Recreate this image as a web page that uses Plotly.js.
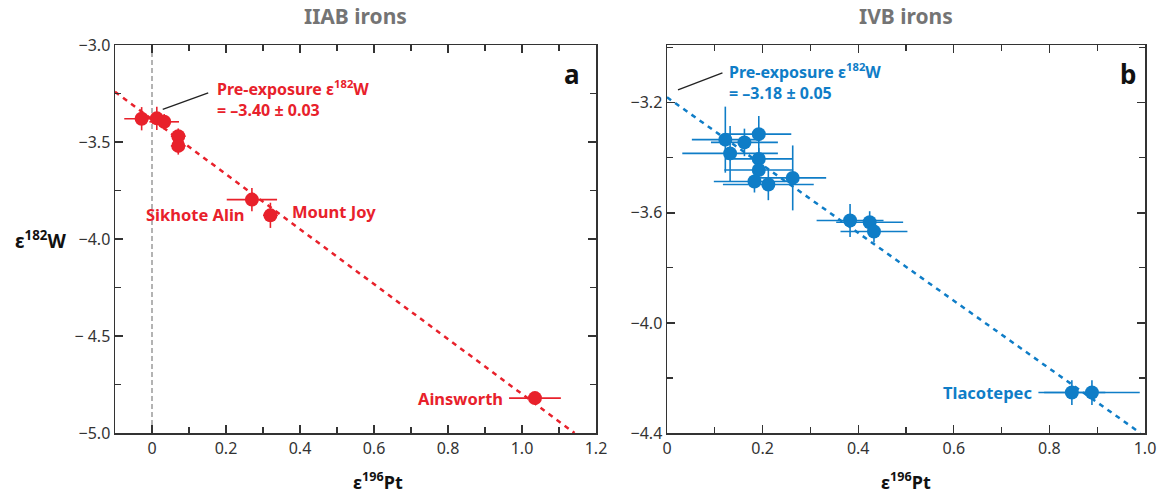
<!DOCTYPE html>
<html>
<head>
<meta charset="utf-8">
<script src="https://cdn.plot.ly/plotly-3.0.1.min.js"></script>
<style>
html,body{margin:0;padding:0;background:#fff;}
#chart{width:1171px;height:496px;}
</style>
</head>
<body>
<div id="chart"></div>
<script>
// ---------- Data ----------
// IIAB irons (panel a)
const iiabPt = [-0.028, 0.013, 0.033, 0.071, 0.071, 0.27, 0.32, 1.035];
const iiabW = [-3.38, -3.378, -3.396, -3.47, -3.52, -3.797, -3.878, -4.82];
const iiabPtErr = [0.047, 0.03, 0.04, 0.02, 0.02, 0.068, 0.02, 0.07];
const iiabWErr = [0.06, 0.06, 0.04, 0.04, 0.045, 0.06, 0.065, 0.03];
const iiabFit = {intercept: -3.383, slope: -1.416, xFrom: -0.1, xTo: 1.142};

// IVB irons (panel b)
const ivbPt = [0.122, 0.162, 0.192, 0.132, 0.192, 0.192, 0.183, 0.212, 0.263, 0.383, 0.424, 0.433, 0.847, 0.889];
const ivbW = [-3.334, -3.344, -3.314, -3.384, -3.404, -3.444, -3.486, -3.497, -3.473, -3.628, -3.634, -3.668, -4.253, -4.253];
const ivbPtErr = [0.07, 0.07, 0.068, 0.10, 0.07, 0.072, 0.085, 0.095, 0.07, 0.07, 0.07, 0.07, 0.07, 0.1];
const ivbWErr = [0.12, 0.05, 0.066, 0.1, 0.04, 0.04, 0.04, 0.057, 0.118, 0.06, 0.04, 0.04, 0.045, 0.045];
const ivbFit = {intercept: -3.18, slope: -1.232, xFrom: 0, xTo: 0.99};

// Tick labels
const ax1XVals = [0, 0.2, 0.4, 0.6, 0.8, 1.0, 1.2];
const ax1XText = ['0', '0.2', '0.4', '0.6', '0.8', '1.0', '1.2'];
const ax1YVals = [-3.0, -3.5, -4.0, -4.5, -5.0];
const ax1YText = ['\u22123.0', '\u22123.5', '\u22124.0', '\u2212 4.5', '\u22125.0'];
const ax2XVals = [0, 0.2, 0.4, 0.6, 0.8, 1.0];
const ax2XText = ['0', '0.2', '0.4', '0.6', '0.8', '1.0'];
const ax2YVals = [-3.2, -3.6, -4.0, -4.4];
const ax2YText = ['\u22123.2', '\u22123.6', '\u22124.0', '\u22124.4'];

// Leader lines for annotations (data coordinates)
const leaderA = {x: [0.029, 0.152], y: [-3.332, -3.247]};
const leaderB = {x: [0.023, 0.116], y: [-3.153, -3.091]};

// ---------- Styles ----------
const RED = '#e8212b';
const BLUE = '#0f7dc7';
const FONT = 'Noto Sans, Open Sans, sans-serif';

function fitLine(f) {
  return {x: [f.xFrom, f.xTo], y: [f.intercept + f.slope * f.xFrom, f.intercept + f.slope * f.xTo]};
}
const redLine = fitLine(iiabFit);
const blueLine = fitLine(ivbFit);

const traces = [
  {x: [0, 0], y: [-5.0, -3.0], xaxis: 'x', yaxis: 'y', mode: 'lines',
   line: {color: '#9a9a9a', width: 1.5, dash: '5px,3px'}, hoverinfo: 'skip'},
  {x: redLine.x, y: redLine.y, xaxis: 'x', yaxis: 'y', mode: 'lines',
   line: {color: RED, width: 2.5, dash: '5px,5px'}},
  {x: leaderA.x, y: leaderA.y, xaxis: 'x', yaxis: 'y', mode: 'lines',
   line: {color: '#222', width: 1.3}},
  {x: iiabPt, y: iiabW, xaxis: 'x', yaxis: 'y', mode: 'markers', type: 'scatter',
   marker: {color: RED, size: 14},
   error_x: {type: 'data', array: iiabPtErr, color: RED, thickness: 1.6, width: 0},
   error_y: {type: 'data', array: iiabWErr, color: RED, thickness: 1.6, width: 0}},

  {x: blueLine.x, y: blueLine.y, xaxis: 'x2', yaxis: 'y2', mode: 'lines',
   line: {color: BLUE, width: 2.5, dash: '5px,5px'}},
  {x: leaderB.x, y: leaderB.y, xaxis: 'x2', yaxis: 'y2', mode: 'lines',
   line: {color: '#222', width: 1.3}},
  {x: ivbPt, y: ivbW, xaxis: 'x2', yaxis: 'y2', mode: 'markers', type: 'scatter',
   marker: {color: BLUE, size: 14},
   error_x: {type: 'data', array: ivbPtErr, color: BLUE, thickness: 1.6, width: 0},
   error_y: {type: 'data', array: ivbWErr, color: BLUE, thickness: 1.6, width: 0}}
];

const axisBase = {
  showline: true, linecolor: '#333', linewidth: 1.5, mirror: 'ticks',
  ticks: 'inside', ticklen: 8, tickwidth: 1.3, tickcolor: '#333',
  showgrid: false, zeroline: false, fixedrange: true,
  tickfont: {family: FONT, size: 16, color: '#333'},
  tickmode: 'array'
};

const layout = {
  width: 1171, height: 496,
  margin: {l: 0, r: 0, t: 0, b: 0},
  paper_bgcolor: '#fff', plot_bgcolor: '#fff',
  showlegend: false,
  xaxis: Object.assign({}, axisBase, {
    domain: [115/1171, 596/1171], range: [-0.1, 1.2], anchor: 'y',
    tickvals: ax1XVals, ticktext: ax1XText,
    minor: {ticks: 'inside', ticklen: 6, dtick: 0.1, tick0: 0, tickcolor: '#333', tickwidth: 1.2, showgrid: false}
  }),
  yaxis: Object.assign({}, axisBase, {
    domain: [1 - 433/496, 1 - 45/496], range: [-5.0, -3.0], anchor: 'x',
    tickvals: ax1YVals, ticktext: ax1YText,
    minor: {ticks: 'inside', ticklen: 6, dtick: 0.25, tick0: -5, tickcolor: '#333', tickwidth: 1.2, showgrid: false}
  }),
  xaxis2: Object.assign({}, axisBase, {
    domain: [667/1171, 1145/1171], range: [0, 1.0], anchor: 'y2',
    tickvals: ax2XVals, ticktext: ax2XText,
    minor: {ticks: 'inside', ticklen: 6, dtick: 0.1, tick0: 0, tickcolor: '#333', tickwidth: 1.2, showgrid: false}
  }),
  yaxis2: Object.assign({}, axisBase, {
    domain: [1 - 433/496, 1 - 45/496], range: [-4.4, -2.99], anchor: 'x2',
    tickvals: ax2YVals, ticktext: ax2YText,
    minor: {ticks: 'inside', ticklen: 6, dtick: 0.2, tick0: -4.4, tickcolor: '#333', tickwidth: 1.2, showgrid: false}
  }),
  annotations: [
    // panel titles
    {text: 'IIAB irons', xref: 'paper', yref: 'paper', x: 355/1171, y: 1 - 16/496, showarrow: false,
     font: {family: FONT, size: 21, color: '#747474', weight: 'bold'}, xanchor: 'center', yanchor: 'middle'},
    {text: 'IVB irons', xref: 'paper', yref: 'paper', x: 906/1171, y: 1 - 16/496, showarrow: false,
     font: {family: FONT, size: 21, color: '#747474', weight: 'bold'}, xanchor: 'center', yanchor: 'middle'},
    // axis titles
    {text: '\u03b5<sup>196</sup>Pt', xref: 'paper', yref: 'paper', x: 378/1171, y: 1 - 481/496, showarrow: false,
     font: {family: FONT, size: 18, color: '#111', weight: 'bold'}, xanchor: 'center', yanchor: 'middle'},
    {text: '\u03b5<sup>196</sup>Pt', xref: 'paper', yref: 'paper', x: 906/1171, y: 1 - 481/496, showarrow: false,
     font: {family: FONT, size: 18, color: '#111', weight: 'bold'}, xanchor: 'center', yanchor: 'middle'},
    {text: '\u03b5<sup>182</sup>W', xref: 'paper', yref: 'paper', x: 40/1171, y: 1 - 240/496, showarrow: false,
     font: {family: FONT, size: 19, color: '#111', weight: 'bold'}, xanchor: 'center', yanchor: 'middle'},
    // panel letters
    {text: 'a', xref: 'paper', yref: 'paper', x: 572/1171, y: 1 - 74/496, showarrow: false,
     font: {family: FONT, size: 26, color: '#111', weight: 'bold'}, xanchor: 'center', yanchor: 'middle'},
    {text: 'b', xref: 'paper', yref: 'paper', x: 1128/1171, y: 1 - 74/496, showarrow: false,
     font: {family: FONT, size: 26, color: '#111', weight: 'bold'}, xanchor: 'center', yanchor: 'middle'},
    // panel a labels
    {text: 'Pre-exposure \u03b5<sup>182</sup>W<br>= \u20133.40 \u00b1 0.03', xref: 'x', yref: 'y', x: 0.17, y: -3.274,
     showarrow: false, align: 'left', xanchor: 'left', yanchor: 'middle',
     font: {family: FONT, size: 16, color: RED, weight: 'bold'}},
    {text: 'Sikhote Alin', xref: 'x', yref: 'y', x: -0.021, y: -3.874, showarrow: false, xanchor: 'left', yanchor: 'middle',
     font: {family: FONT, size: 16.5, color: RED, weight: 'bold'}},
    {text: 'Mount Joy', xref: 'x', yref: 'y', x: 0.373, y: -3.857, showarrow: false, xanchor: 'left', yanchor: 'middle',
     font: {family: FONT, size: 16.5, color: RED, weight: 'bold'}},
    {text: 'Ainsworth', xref: 'x', yref: 'y', x: 0.954, y: -4.823, showarrow: false, xanchor: 'right', yanchor: 'middle',
     font: {family: FONT, size: 16.5, color: RED, weight: 'bold'}},
    // panel b labels
    {text: 'Pre-exposure \u03b5<sup>182</sup>W<br>= \u20133.18 \u00b1 0.05', xref: 'x2', yref: 'y2', x: 0.126, y: -3.124,
     showarrow: false, align: 'left', xanchor: 'left', yanchor: 'middle',
     font: {family: FONT, size: 16, color: BLUE, weight: 'bold'}},
    {text: 'Tlacotepec', xref: 'x2', yref: 'y2', x: 0.767, y: -4.253, showarrow: false, xanchor: 'right', yanchor: 'middle',
     font: {family: FONT, size: 16.5, color: BLUE, weight: 'bold'}}
  ]
};

Plotly.newPlot('chart', traces, layout, {staticPlot: true, displayModeBar: false});
</script>
</body>
</html>
